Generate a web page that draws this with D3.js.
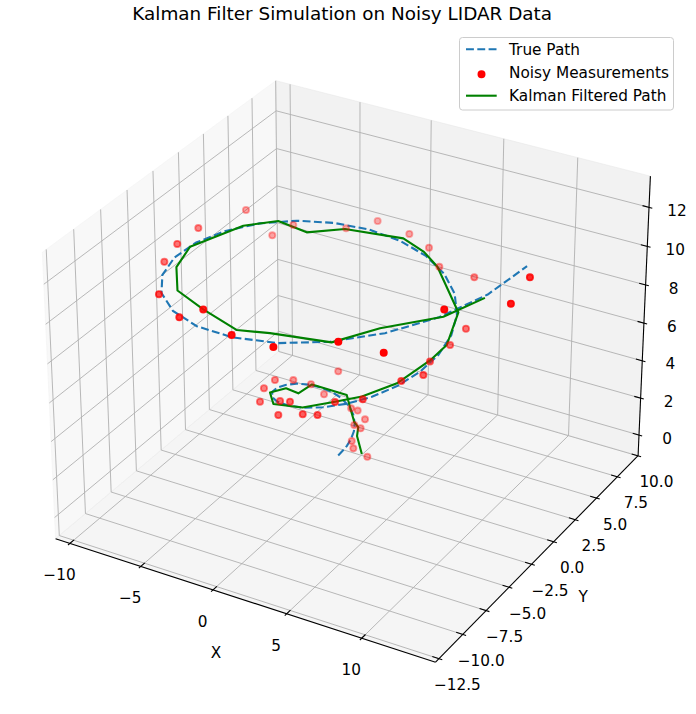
<!DOCTYPE html>
<html>
<head>
<meta charset="utf-8">
<script src="https://cdn.jsdelivr.net/npm/d3@7"></script>
<style>
  body { margin: 0; background: #fff; }
</style>
</head>
<body>
<div id="chart"></div>
<script>
const titleText = "Kalman Filter Simulation on Noisy LIDAR Data";

// true spiral path (50 samples)
const xTrue = [0.00, 0.25, 0.45, 0.55, 0.53, 0.36, 0.05, -0.40, -0.95, -1.55, -2.15, -2.68, -3.07, -3.27, -3.23, -2.93, -2.35, -1.51, -0.44, 0.78, 2.08, 3.36, 4.52, 5.47, 6.10, 6.36, 6.18, 5.55, 4.48, 3.01, 1.23, -0.76, -2.83, -4.84, -6.64, -8.09, -9.06, -9.47, -9.25, -8.38, -6.90, -4.86, -2.40, 0.35, 3.21, 5.98, 8.47, 10.50, 11.91, 12.57];
const yTrue = [0.00, 0.07, 0.25, 0.54, 0.88, 1.23, 1.54, 1.75, 1.82, 1.71, 1.40, 0.89, 0.20, -0.64, -1.56, -2.49, -3.37, -4.09, -4.59, -4.81, -4.69, -4.21, -3.37, -2.21, -0.79, 0.82, 2.50, 4.14, 5.61, 6.80, 7.60, 7.91, 7.70, 6.94, 5.65, 3.89, 1.76, -0.61, -3.07, -5.46, -7.59, -9.32, -10.50, -11.02, -10.82, -9.87, -8.21, -5.91, -3.12, 0.00];
const zTrue = [0.00, 0.26, 0.51, 0.77, 1.03, 1.28, 1.54, 1.80, 2.05, 2.31, 2.56, 2.82, 3.08, 3.33, 3.59, 3.85, 4.10, 4.36, 4.62, 4.87, 5.13, 5.39, 5.64, 5.90, 6.15, 6.41, 6.67, 6.92, 7.18, 7.44, 7.69, 7.95, 8.21, 8.46, 8.72, 8.98, 9.23, 9.49, 9.75, 10.00, 10.26, 10.51, 10.77, 11.03, 11.28, 11.54, 11.80, 12.05, 12.31, 12.57];

const xMeas = [-9.02, -9.58, -9.31, -9.71, -7.01, -4.45, -2.32, 0.28, 3.05, -7.24, -6.76, 6.39, -4.11, -2.51, -0.39, 1.27, 2.65, 5.22, 12.87, 13.18, 10.64, 6.84, 6.26, 6.02, 6.33, 5.61, 8.68, -1.54, -3.46, -3.28, -2.55, -3.42, -1.87, -2.90, -1.36, -0.37, 2.60, -0.77, 0.86, 1.90, 4.09, -0.24, 0.23, 0.85, 0.37, 0.84, 0.62, 0.83, 1.69];
const yMeas = [3.83, -0.22, -2.69, -3.44, -7.68, -9.30, -9.97, -10.99, -11.01, 3.95, 5.46, -9.66, 7.14, 8.13, 8.32, 7.88, 6.83, 6.58, -0.17, -2.74, -5.61, 3.04, 2.25, 0.45, -0.76, -1.98, -8.66, 2.36, -1.44, 0.20, 0.97, -2.63, 1.33, -3.80, -4.00, -4.44, -4.26, -5.05, -4.97, -5.01, -3.66, 1.76, 1.75, 1.59, 1.17, 1.13, 0.51, 0.36, 0.55];
const zMeas = [9.52, 10.06, 10.28, 9.58, 10.22, 10.27, 11.40, 11.12, 11.14, 8.50, 8.55, 11.54, 8.24, 8.56, 8.23, 8.02, 7.72, 7.80, 12.15, 11.97, 12.34, 6.93, 6.29, 6.15, 6.04, 6.10, 11.08, 3.14, 3.90, 3.22, 2.83, 3.99, 2.28, 3.91, 4.38, 4.76, 5.33, 4.24, 4.62, 4.83, 5.54, 1.70, 1.69, 1.43, 1.20, 1.15, 0.69, 0.41, 0.07];

// kalman filtered estimate
const xKf = [1.33, 0.77, 0.61, 0.32, -0.32, -0.73, -2.49, -2.82, -3.19, -3.04, -1.66, 0.75, 2.59, 4.01, 5.43, 6.01, 6.09, 5.59, 2.55, 1.07, -0.64, -4.16, -5.93, -7.62, -8.92, -9.73, -9.01, -6.13, -2.32, 0.47, 2.69, 6.07, 8.16, 10.70, 11.78];
const yKf = [0.48, 0.85, 1.23, 1.24, 1.76, 2.04, 0.99, 0.03, -0.70, -2.57, -4.24, -4.82, -4.25, -3.62, -2.15, 0.47, 2.16, 4.23, 6.78, 7.64, 8.05, 7.10, 5.65, 5.14, 3.39, -0.87, -3.24, -7.12, -9.97, -10.75, -10.80, -9.84, -8.23, -5.79, -3.30];
const zKf = [0.22, 0.84, 1.12, 1.32, 1.76, 2.19, 2.82, 2.69, 3.20, 3.82, 4.26, 4.88, 5.34, 5.65, 6.01, 6.19, 6.29, 7.01, 7.72, 7.85, 8.05, 8.21, 8.25, 8.71, 8.89, 9.32, 9.37, 10.36, 11.40, 11.30, 11.65, 11.52, 11.98, 12.07, 12.17];

const xTicks = [-10, -5, 0, 5, 10];
const yTicks = [-12.5, -10, -7.5, -5, -2.5, 0, 2.5, 5, 7.5, 10];
const zTicks = [0, 2, 4, 6, 8, 10, 12];

const xLim = [-11.03, 14.82];
const yLim = [-12.85, 10.02];
const zLim = [-1.13, 13.58];

const width = 696;
const height = 714;

// --- 3d view (same maths as mpl: elev 30, azim -60, dist 10, box 4:4:3) ---
const elev = 30, azim = -60, dist = 10;
const half = [4, 4, 3].map(v => 0.5 * v * 1.8294640721620434 / Math.sqrt(41));
const nx = d3.scaleLinear().domain(xLim).range([-half[0], half[0]]);
const ny = d3.scaleLinear().domain(yLim).range([-half[1], half[1]]);
const nz = d3.scaleLinear().domain(zLim).range([-half[2], half[2]]);

const er = elev * Math.PI / 180, ar = azim * Math.PI / 180;
const W = [Math.cos(er) * Math.cos(ar), Math.cos(er) * Math.sin(ar), Math.sin(er)];
let U = [-W[1], W[0], 0];
const un = Math.hypot(U[0], U[1]);
U = U.map(v => v / un);
const V = [W[1] * U[2] - W[2] * U[1], W[2] * U[0] - W[0] * U[2], W[0] * U[1] - W[1] * U[0]];
const dot = (p, q) => p[0] * q[0] + p[1] * q[1] + p[2] * q[2];

// projected plane -> pixels
const sx = d3.scaleLinear().domain([-0.095, 0.09]).range([352 - 0.095 * 3810, 352 + 0.09 * 3810]);
const sy = d3.scaleLinear().domain([-0.095, 0.09]).range([358 + 0.095 * 3810, 358 - 0.09 * 3810]);

function proj(x, y, z) {
  const d = [nx(x), ny(y), nz(z)];
  const den = dist - dot(W, d);
  return [sx(dot(U, d) / den), sy(dot(V, d) / den), -dist / den];
}

const line = d3.line().x(d => d[0]).y(d => d[1]);

const svg = d3.select("#chart").append("svg")
  .attr("width", width)
  .attr("height", height)
  .style("font-family", "'DejaVu Sans', sans-serif");

const [x0, x1] = xLim, [y0, y1] = yLim, [z0, z1] = zLim;

// panes
const panes = [
  { pts: [[x0, y0, z0], [x0, y1, z0], [x0, y1, z1], [x0, y0, z1]], c: "rgba(242,242,242,0.5)" },
  { pts: [[x0, y1, z0], [x1, y1, z0], [x1, y1, z1], [x0, y1, z1]], c: "rgba(230,230,230,0.5)" },
  { pts: [[x0, y0, z0], [x1, y0, z0], [x1, y1, z0], [x0, y1, z0]], c: "rgba(236,236,236,0.5)" }
];
svg.append("g").selectAll("path")
  .data(panes)
  .join("path")
  .attr("d", d => line(d.pts.map(p => proj(...p))) + "Z")
  .attr("fill", d => d.c)
  .attr("stroke", d => d.c)
  .attr("stroke-width", 1);

// grid
const gridLines = [];
xTicks.forEach(t => gridLines.push([[t, y0, z0], [t, y1, z0], [t, y1, z1]]));
yTicks.forEach(t => gridLines.push([[x1, t, z0], [x0, t, z0], [x0, t, z1]]));
zTicks.forEach(t => gridLines.push([[x0, y0, t], [x0, y1, t], [x1, y1, t]]));
svg.append("g").selectAll("path")
  .data(gridLines)
  .join("path")
  .attr("d", d => line(d.map(p => proj(...p))))
  .attr("fill", "none")
  .attr("stroke", "#b0b0b0")
  .attr("stroke-width", 0.9);

// axis lines
const axisLines = [
  [[x0, y0, z0], [x1, y0, z0]],
  [[x1, y0, z0], [x1, y1, z0]],
  [[x1, y1, z0], [x1, y1, z1]]
];
svg.append("g").selectAll("path")
  .data(axisLines)
  .join("path")
  .attr("d", d => line(d.map(p => proj(...p))))
  .attr("fill", "none")
  .attr("stroke", "#000")
  .attr("stroke-width", 1.1);

// ticks
const dx = (x1 - x0) / 12, dy = (y1 - y0) / 12;
const tickMarks = [];
xTicks.forEach(t => tickMarks.push([[t, y0 - 0.1 * dy, z0], [t, y0 + 0.2 * dy, z0]]));
yTicks.forEach(t => tickMarks.push([[x1 + 0.1 * dx, t, z0], [x1 - 0.2 * dx, t, z0]]));
zTicks.forEach(t => tickMarks.push([[x1 + 0.1 * dx, y1, t], [x1 - 0.2 * dx, y1, t]]));
svg.append("g").selectAll("path")
  .data(tickMarks)
  .join("path")
  .attr("d", d => line(d.map(p => proj(...p))))
  .attr("stroke", "#000")
  .attr("stroke-width", 1.1);

// tick labels
const fmtInt = d3.format("d");
const fmtDec = d3.format(".1f");
const labelSize = 15.3;
const base = 0.365 * labelSize; // visual centre -> baseline

function tickLabels(ticks, pos, fmt, ox, oy) {
  svg.append("g").selectAll("text")
    .data(ticks)
    .join("text")
    .attr("x", d => pos(d)[0] + ox)
    .attr("y", d => pos(d)[1] + oy + base)
    .attr("text-anchor", "middle")
    .style("font-size", labelSize + "px")
    .style("fill", "#000")
    .text(fmt);
}
tickLabels(xTicks, t => proj(t, y0, z0), fmtInt, -10.5, 31.5);
tickLabels(yTicks, t => proj(x1, t, z0), fmtDec, 18.5, 26);
tickLabels(zTicks, t => proj(x1, y1, t), fmtInt, 28, 3);

// axis labels
const xMid = proj((x0 + x1) / 2, y0, z0);
const yMid = proj(x1, (y0 + y1) / 2, z0);
svg.append("text")
  .attr("x", xMid[0] - 24.8).attr("y", xMid[1] + 53.2 + base)
  .attr("text-anchor", "middle")
  .style("font-size", labelSize + "px")
  .text("X");
svg.append("text")
  .attr("x", yMid[0] + 42).attr("y", yMid[1] + 42 + base)
  .attr("text-anchor", "middle")
  .style("font-size", labelSize + "px")
  .text("Y");

// true path
const truePts = xTrue.map((x, i) => proj(x, yTrue[i], zTrue[i]));
svg.append("path")
  .attr("d", line(truePts))
  .attr("fill", "none")
  .attr("stroke", "#1f77b4")
  .attr("stroke-width", 2.1)
  .attr("stroke-dasharray", "7.9,3.4");

// kalman path
const kfPts = xKf.map((x, i) => proj(x, yKf[i], zKf[i]));
svg.append("path")
  .attr("d", line(kfPts))
  .attr("fill", "none")
  .attr("stroke", "#008000")
  .attr("stroke-width", 2.1)
  .attr("stroke-linejoin", "round")
  .attr("stroke-linecap", "square");

// measurements with depth shading (far points fainter, drawn first)
const measPts = xMeas.map((x, i) => proj(x, yMeas[i], zMeas[i]));
const depthExtent = d3.extent(measPts, d => d[2]);
const alpha = d3.scaleLinear().domain(depthExtent).range([1, 0.3]);
svg.append("g").selectAll("circle")
  .data(measPts.slice().sort((a, b) => b[2] - a[2]))
  .join("circle")
  .attr("cx", d => d[0])
  .attr("cy", d => d[1])
  .attr("r", 3.1)
  .attr("fill", "#ff0000")
  .attr("fill-opacity", d => alpha(d[2]))
  .attr("stroke", "#ff0000")
  .attr("stroke-opacity", d => alpha(d[2]))
  .attr("stroke-width", 1.8);

// legend
const legend = svg.append("g");
legend.append("rect")
  .attr("x", 459.5).attr("y", 37.5)
  .attr("width", 214).attr("height", 72.5)
  .attr("rx", 3).attr("ry", 3)
  .attr("fill", "rgba(255,255,255,0.8)")
  .attr("stroke", "#cccccc")
  .attr("stroke-width", 1);

const legendEntries = [
  { label: "True Path", type: "dash", y: 49.3, base: 55 },
  { label: "Noisy Measurements", type: "dot", y: 74.3, base: 78.3 },
  { label: "Kalman Filtered Path", type: "line", y: 95.7, base: 101 }
];
legendEntries.forEach(e => {
  if (e.type === "dash") {
    legend.append("line")
      .attr("x1", 466).attr("x2", 496.7).attr("y1", e.y).attr("y2", e.y)
      .attr("stroke", "#1f77b4").attr("stroke-width", 2.1)
      .attr("stroke-dasharray", "7.9,3.4");
  } else if (e.type === "line") {
    legend.append("line")
      .attr("x1", 466).attr("x2", 496.7).attr("y1", e.y).attr("y2", e.y)
      .attr("stroke", "#008000").attr("stroke-width", 2.1);
  } else {
    legend.append("circle")
      .attr("cx", 481.5).attr("cy", e.y).attr("r", 3.1)
      .attr("fill", "#ff0000").attr("stroke", "#ff0000").attr("stroke-width", 1.8);
  }
  legend.append("text")
    .attr("x", 509).attr("y", e.base)
    .style("font-size", labelSize + "px")
    .style("fill", "#000")
    .text(e.label);
});

// title
svg.append("text")
  .attr("x", 342.2).attr("y", 20)
  .attr("text-anchor", "middle")
  .style("font-size", "18.4px")
  .style("fill", "#000")
  .text(titleText);
</script>
</body>
</html>
